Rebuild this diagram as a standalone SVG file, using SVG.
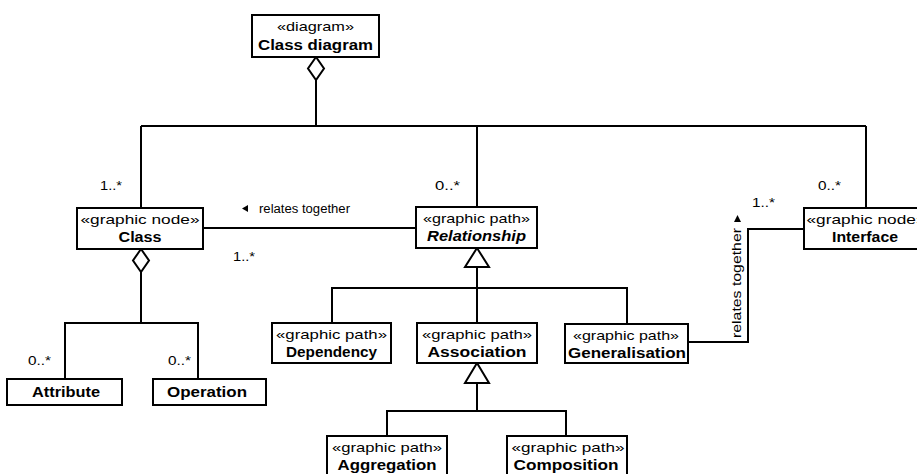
<svg xmlns="http://www.w3.org/2000/svg" width="917" height="474" viewBox="0 0 917 474">
  <style>
    .box { fill: #fff; stroke: #000; stroke-width: 2; }
    .ln { fill: none; stroke: #000; stroke-width: 2; }
    .hollow { fill: #fff; stroke: #000; stroke-width: 2; stroke-linejoin: miter; }
    text { font-family: "Liberation Sans", Arial, sans-serif; fill: #000; }
    .st { font-size: 13.5px; text-anchor: middle; }
    .nm { font-size: 14px; font-weight: bold; text-anchor: middle; }
    .it { font-style: italic; }
    .lb { font-size: 12.5px; }
  </style>
  <rect width="917" height="474" fill="#fff"/>

  <!-- connectors -->
  <g id="connectors">
    <!-- composition tree from the diagram root -->
    <polyline class="ln" points="316,80 316,126"/>
    <polyline class="ln" points="141,126 866,126"/>
    <polyline class="ln" points="141,126 141,208"/>
    <polyline class="ln" points="477,126 477,207"/>
    <polyline class="ln" points="866,126 866,208"/>
    <polygon class="hollow" points="316,57 308,68.5 316,80 324,68.5"/>

    <!-- Class relates together Relationship -->
    <polyline class="ln" points="203,228 416,228"/>

    <!-- Class aggregates Attribute / Operation -->
    <polyline class="ln" points="141,272 141,323"/>
    <polyline class="ln" points="65,379 65,323 198,323 198,379"/>
    <polygon class="hollow" points="141,249 133,260.5 141,272 149,260.5"/>

    <!-- Relationship specialisations -->
    <polyline class="ln" points="477,267 477,323"/>
    <polyline class="ln" points="332,323 332,288 627,288 627,324"/>
    <polygon class="hollow" points="477,248 465,267 489,267"/>

    <!-- Association specialisations -->
    <polyline class="ln" points="477,383 477,411"/>
    <polyline class="ln" points="387,436 387,411 566,411 566,436"/>
    <polygon class="hollow" points="477,363 465,383 489,383"/>

    <!-- Generalisation relates together Interface -->
    <polyline class="ln" points="688,342 748,342 748,229 804,229"/>
  </g>

  <!-- connector labels -->
  <g id="labels">
    <text class="lb" x="100" y="190" textLength="22" lengthAdjust="spacingAndGlyphs">1..*</text>
    <text class="lb" x="435" y="190" textLength="25" lengthAdjust="spacingAndGlyphs">0..*</text>
    <text class="lb" x="818" y="190" textLength="23" lengthAdjust="spacingAndGlyphs">0..*</text>
    <text class="lb" x="752" y="207" textLength="23" lengthAdjust="spacingAndGlyphs">1..*</text>
    <text class="lb" x="233" y="261" textLength="22" lengthAdjust="spacingAndGlyphs">1..*</text>
    <text class="lb" x="28" y="365" textLength="23" lengthAdjust="spacingAndGlyphs">0..*</text>
    <text class="lb" x="168" y="365" textLength="23" lengthAdjust="spacingAndGlyphs">0..*</text>
    <polygon points="242,208.5 248,205 248,212" fill="#000"/>
    <text class="lb" x="259" y="213" textLength="91" lengthAdjust="spacingAndGlyphs">relates together</text>
    <text class="lb" transform="translate(741,338) rotate(-90)" x="0" y="0" textLength="110" lengthAdjust="spacingAndGlyphs">relates together</text>
    <polygon points="737.5,215 734,222 741,222" fill="#000"/>
  </g>

  <!-- nodes -->
  <g id="node-class-diagram">
    <rect class="box" x="252" y="15" width="127" height="42"/>
    <text class="st" x="315.5" y="31" textLength="77" lengthAdjust="spacingAndGlyphs">«diagram»</text>
    <text class="nm" x="315.5" y="50" textLength="115" lengthAdjust="spacingAndGlyphs">Class diagram</text>
  </g>

  <g id="node-class">
    <rect class="box" x="77" y="208" width="126" height="41"/>
    <text class="st" x="140" y="224" textLength="119" lengthAdjust="spacingAndGlyphs">«graphic node»</text>
    <text class="nm" x="140" y="242" textLength="43" lengthAdjust="spacingAndGlyphs">Class</text>
  </g>

  <g id="node-relationship">
    <rect class="box" x="416" y="207" width="121" height="41"/>
    <text class="st" x="476.5" y="223" textLength="107" lengthAdjust="spacingAndGlyphs">«graphic path»</text>
    <text class="nm it" x="476.5" y="241" textLength="99" lengthAdjust="spacingAndGlyphs">Relationship</text>
  </g>

  <g id="node-interface">
    <rect class="box" x="804" y="208" width="120" height="41"/>
    <text class="st" x="866" y="224" textLength="119" lengthAdjust="spacingAndGlyphs">«graphic node»</text>
    <text class="nm" x="865" y="242" textLength="66" lengthAdjust="spacingAndGlyphs">Interface</text>
  </g>

  <g id="node-attribute">
    <rect class="box" x="7" y="379" width="115" height="26"/>
    <text class="nm" x="66" y="397" textLength="68" lengthAdjust="spacingAndGlyphs">Attribute</text>
  </g>

  <g id="node-operation">
    <rect class="box" x="153" y="379" width="113" height="26"/>
    <text class="nm" x="207" y="397" textLength="80" lengthAdjust="spacingAndGlyphs">Operation</text>
  </g>

  <g id="node-dependency">
    <rect class="box" x="272" y="323" width="119" height="40"/>
    <text class="st" x="331.5" y="339" textLength="111" lengthAdjust="spacingAndGlyphs">«graphic path»</text>
    <text class="nm" x="331.5" y="357" textLength="91" lengthAdjust="spacingAndGlyphs">Dependency</text>
  </g>

  <g id="node-association">
    <rect class="box" x="417" y="323" width="120" height="40"/>
    <text class="st" x="477" y="339" textLength="110" lengthAdjust="spacingAndGlyphs">«graphic path»</text>
    <text class="nm" x="477" y="357" textLength="99" lengthAdjust="spacingAndGlyphs">Association</text>
  </g>

  <g id="node-generalisation">
    <rect class="box" x="565" y="324" width="123" height="39"/>
    <text class="st" x="626" y="340" textLength="106" lengthAdjust="spacingAndGlyphs">«graphic path»</text>
    <text class="nm" x="627" y="358" textLength="118" lengthAdjust="spacingAndGlyphs">Generalisation</text>
  </g>

  <g id="node-aggregation">
    <rect class="box" x="327" y="436" width="120" height="40"/>
    <text class="st" x="387" y="452" textLength="110" lengthAdjust="spacingAndGlyphs">«graphic path»</text>
    <text class="nm" x="387" y="470" textLength="99" lengthAdjust="spacingAndGlyphs">Aggregation</text>
  </g>

  <g id="node-composition">
    <rect class="box" x="507" y="436" width="120" height="40"/>
    <text class="st" x="568" y="452" textLength="113" lengthAdjust="spacingAndGlyphs">«graphic path»</text>
    <text class="nm" x="566" y="470" textLength="105" lengthAdjust="spacingAndGlyphs">Composition</text>
  </g>
</svg>
